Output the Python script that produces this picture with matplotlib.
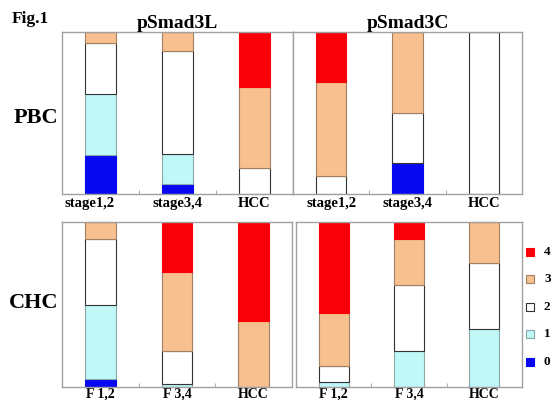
import matplotlib.pyplot as plt
from matplotlib.transforms import ScaledTranslation

# Score levels (0..4), stacked bottom to top
levels = ['0', '1', '2', '3', '4']
colors = ['#0808f0', '#c0f8f8', '#ffffff', '#f9c08f', '#fa0008']
edges = ['#0808f0', '#8aa8a8', '#333333', '#a08060', '#fa0008']

pbc_groups = ['stage1,2', 'stage3,4', 'HCC']
chc_groups = ['F 1,2', 'F 3,4', 'HCC']

# percent of cases per score, one list per group: [0, 1, 2, 3, 4]
pbc_3l = [[24, 38, 31, 7, 0],
          [6, 19, 63, 12, 0],
          [0, 0, 16, 50, 34]]
pbc_3c = [[0, 0, 11, 58, 31],
          [19, 0, 31, 50, 0],
          [0, 0, 100, 0, 0]]
chc_3l = [[5, 45, 40, 10, 0],
          [0, 2, 20, 48, 30],
          [0, 0, 0, 40, 60]]
chc_3c = [[0, 3, 10, 32, 55],
          [0, 22, 40, 28, 10],
          [0, 35, 40, 25, 0]]

serif = ['Liberation Serif', 'DejaVu Serif']
plt.rcParams['font.family'] = serif

fig = plt.figure(figsize=(5.52, 4.0), dpi=100)

boxes = {
    'tl': [62 / 552, 1 - 194 / 400, 231 / 552, 162 / 400],
    'tr': [293 / 552, 1 - 194 / 400, 229 / 552, 162 / 400],
    'bl': [62 / 552, 1 - 387 / 400, 230 / 552, 165 / 400],
    'br': [296 / 552, 1 - 387 / 400, 226 / 552, 165 / 400],
}


def draw_panel(ax, groups, data, fs=10.5, pad=2):
    x = list(range(len(groups)))
    bottoms = [0] * len(groups)
    for k in range(len(levels)):
        vals = [row[k] for row in data]
        ax.bar(x, vals, width=0.4, bottom=bottoms, color=colors[k],
               edgecolor=edges[k], linewidth=0.8, zorder=2)
        bottoms = [b + v for b, v in zip(bottoms, vals)]
    ax.set_xlim(-0.5, 2.5)
    ax.set_ylim(0, 100)
    ax.set_yticks([])
    ax.set_xticks(x)
    ax.set_xticklabels(groups, fontsize=fs, fontweight='bold')
    ax.tick_params(axis='x', length=0, pad=pad)
    ax.set_xticks([0.5, 1.5], minor=True)
    ax.tick_params(axis='x', which='minor', direction='in', length=3,
                   color='#999999')
    for s in ax.spines.values():
        s.set_color('#a0a0a0')
        s.set_linewidth(1.0)


ax1 = fig.add_axes(boxes['tl'])
draw_panel(ax1, pbc_groups, pbc_3l)
ax1.set_title('pSmad3L', fontsize=14, fontweight='bold', pad=1)
# first label sits a bit left of its bar in the original
lab = ax1.get_xticklabels()[0]
lab.set_transform(lab.get_transform() + ScaledTranslation(-0.11, 0, fig.dpi_scale_trans))

ax2 = fig.add_axes(boxes['tr'])
draw_panel(ax2, pbc_groups, pbc_3c)
ax2.set_title('pSmad3C', fontsize=14, fontweight='bold', pad=1)

ax3 = fig.add_axes(boxes['bl'])
draw_panel(ax3, chc_groups, chc_3l, fs=10, pad=0.5)

ax4 = fig.add_axes(boxes['br'])
draw_panel(ax4, chc_groups, chc_3c, fs=10, pad=0.5)

fig.text(12 / 552, 1 - 19 / 400, 'Fig.1', fontsize=12.5, fontweight='bold',
         ha='left', va='center')
fig.text(36 / 552, 1 - 118 / 400, 'PBC', fontsize=16, fontweight='bold',
         ha='center', va='center')
fig.text(34 / 552, 1 - 303 / 400, 'CHC', fontsize=16, fontweight='bold',
         ha='center', va='center')

# legend, top to bottom: 4, 3, 2, 1, 0
leg_y = [252, 279, 307, 334, 362]
for k, yy in zip([4, 3, 2, 1, 0], leg_y):
    fig.patches.append(plt.Rectangle(((530 - 4) / 552, 1 - (yy + 4) / 400), 8 / 552, 8 / 400,
                                     transform=fig.transFigure, facecolor=colors[k],
                                     edgecolor=edges[k] if k != 2 else '#333333',
                                     linewidth=0.8))
    fig.text(544 / 552, 1 - yy / 400, levels[k], fontsize=9.5, fontweight='bold',
             ha='left', va='center')

fig.savefig('out.png', dpi=100)
